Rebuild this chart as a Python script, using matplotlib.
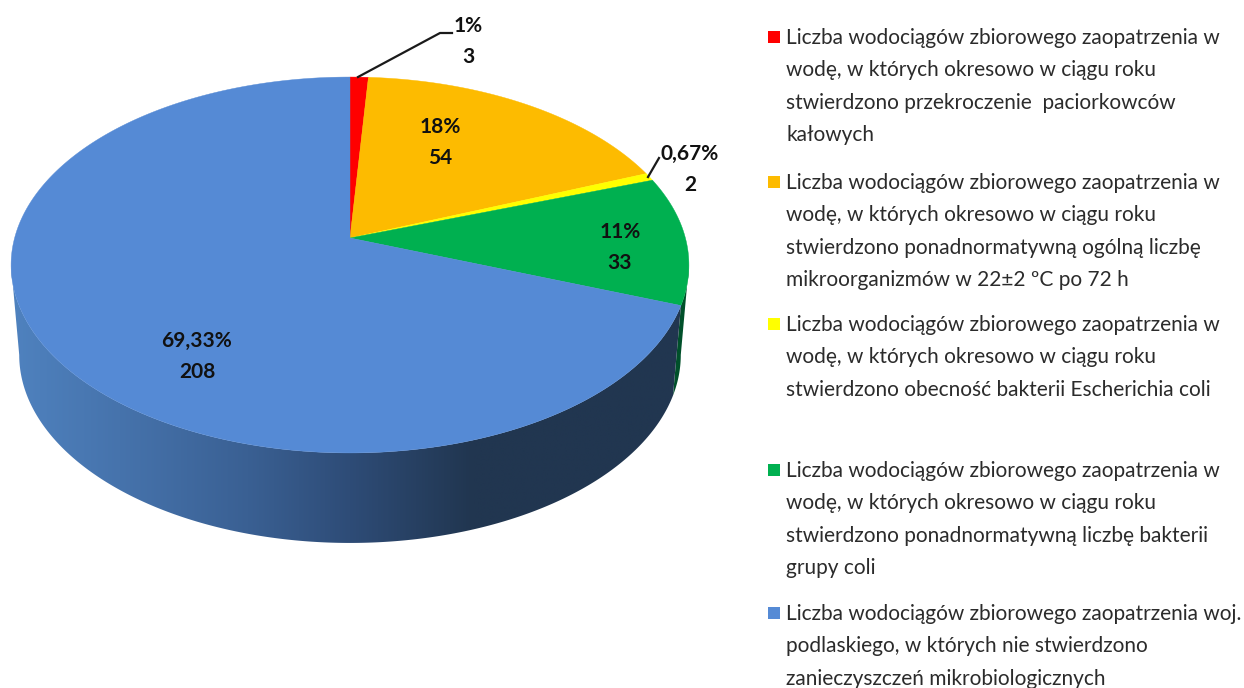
import numpy as np
import matplotlib
matplotlib.use("Agg")
import matplotlib.pyplot as plt
from matplotlib.colors import LinearSegmentedColormap
from matplotlib.patches import Polygon

values = [3, 54, 2, 33, 208]
percent_labels = ["1%", "18%", "0,67%", "11%", "69,33%"]
colors = ["#FF0000", "#FDBB00", "#FFFF00", "#00B050", "#558AD5"]
legend_lines = [
    ["Liczba wodociągów zbiorowego zaopatrzenia w",
     "wodę, w których okresowo w ciągu roku",
     "stwierdzono przekroczenie  paciorkowców",
     "kałowych"],
    ["Liczba wodociągów zbiorowego zaopatrzenia w",
     "wodę, w których okresowo w ciągu roku",
     "stwierdzono ponadnormatywną ogólną liczbę",
     "mikroorganizmów w 22±2 ºC po 72 h"],
    ["Liczba wodociągów zbiorowego zaopatrzenia w",
     "wodę, w których okresowo w ciągu roku",
     "stwierdzono obecność bakterii Escherichia coli"],
    ["Liczba wodociągów zbiorowego zaopatrzenia w",
     "wodę, w których okresowo w ciągu roku",
     "stwierdzono ponadnormatywną liczbę bakterii",
     "grupy coli"],
    ["Liczba wodociągów zbiorowego zaopatrzenia woj.",
     "podlaskiego, w których nie stwierdzono",
     "zanieczyszczeń mikrobiologicznych"],
]

plt.rcParams["font.family"] = ["Lato", "DejaVu Sans"]
fig = plt.figure(figsize=(12.44, 6.88), dpi=100)
ax = fig.add_axes([0, 0, 1, 1])
ax.set_xlim(0, 1244)
ax.set_ylim(688, 0)
ax.axis("off")

# Perspective projection of the unit pie disc onto the picture
CX, APEX_Y, D, A, C = 350.0, 238.0, 335.4, 149.9, 0.1436
DEPTH, BOTTOM_SCALE = 90.0, 0.976
TANGENT = np.arcsin(C)


def rim(t):
    """t: clockwise radians from 12 o'clock."""
    X, Y = np.sin(t), np.cos(t)
    w = 1 + C * Y
    return CX + D * X / w, (APEX_Y - A * Y) / w


def rim_bottom(t):
    x, y = rim(t)
    return CX + (x - CX) * BOTTOM_SCALE, y + DEPTH


def wall(t0, t1):
    t = np.linspace(t0, t1, 300)
    xt, yt = rim(t)
    xb, yb = rim_bottom(t)
    return np.column_stack([np.r_[xt, xb[::-1]], np.r_[yt, yb[::-1]]])


fractions = np.array(values) / sum(values)
edges = np.r_[0, np.cumsum(fractions)] * 2 * np.pi

# Side walls: green sliver, then the blue wall with horizontal shading
ax.add_patch(Polygon(wall(np.pi / 2 + TANGENT, edges[4]), closed=True,
                     fc="#00502A", ec="none", zorder=1))
cmap = LinearSegmentedColormap.from_list(
    "side", [(0.0, "#4F82BF"), (0.16, "#4673AC"), (0.35, "#3A6093"),
             (0.50, "#2E4C77"), (0.68, "#213650"), (1.0, "#213650")])
blue_wall = Polygon(wall(edges[4], 3 * np.pi / 2 - TANGENT), closed=True,
                    fc="none", ec="none", zorder=2)
ax.add_patch(blue_wall)
im = ax.imshow(np.linspace(0, 1, 256)[None, :], cmap=cmap, vmin=0, vmax=1,
               extent=(10, 690, 560, 250), aspect="auto", zorder=2,
               interpolation="bilinear")
im.set_clip_path(blue_wall)
ax.set_xlim(0, 1244)
ax.set_ylim(688, 0)

# Top face
for i, c in enumerate(colors):
    t = np.linspace(edges[i], edges[i + 1], max(3, int(400 * fractions[i])))
    x, y = rim(t)
    ax.fill(np.r_[CX, x], np.r_[APEX_Y, y], fc=c, ec=c, lw=0.3, zorder=3)

# Leader lines
ax.plot([358, 440, 452], [77, 33, 33], color="#1a1a1a", lw=1.6, zorder=4)
ax.plot([648, 659], [177, 158], color="#1a1a1a", lw=1.6, zorder=4)

# Data labels
label_xy = [(468, 26), (440, 127), (690, 154), (620, 232), (197, 341)]
LABEL_GAP = 31
for pct, v, (x, y) in zip(percent_labels, values, label_xy):
    ax.text(x, y, pct, ha="center", va="center", fontsize=15,
            fontweight="bold", color="#111111", zorder=5)
    ax.text(x, y + LABEL_GAP, str(v), ha="center", va="center", fontsize=15,
            fontweight="bold", color="#111111", zorder=5)

# Legend
block_y = [38, 183, 325, 471, 614]
LINE_GAP = 32.3
for lines, y0, c in zip(legend_lines, block_y, colors):
    ax.scatter([773.5], [y0 - 1], marker="s", s=85, color=c, linewidths=0, zorder=5)
    for j, line in enumerate(lines):
        ax.text(786, y0 + j * LINE_GAP, line, ha="left", va="center",
                fontsize=15, color="#2b2b2b", zorder=5)

fig.savefig("out.png", dpi=100, facecolor="white")
